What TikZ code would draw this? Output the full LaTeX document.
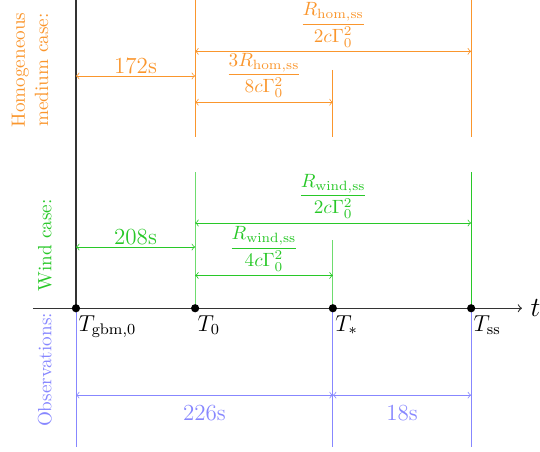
\documentclass[tikz,border=0pt]{standalone}
\usepackage{amsmath,amssymb}
\usetikzlibrary{positioning,calc}

\definecolor{homcol}{RGB}{250,150,45}
\definecolor{windcol}{RGB}{40,200,40}
\definecolor{windlt}{RGB}{110,220,110}
\definecolor{obscol}{RGB}{135,135,255}

\begin{document}
\begin{tikzpicture}[
		axis/.style={draw=black!80, semithick, ->},
		dot/.style={circle, fill=black, inner sep=0pt, minimum size=1.5mm},
		tlabel/.style={font=\large, anchor=north west, inner sep=0pt},
		homline/.style={draw=homcol, semithick},
		homarrow/.style={draw=homcol, <->},
		windline/.style={draw=windlt, semithick},
		windarrow/.style={draw=windcol, <->},
		obsline/.style={draw=obscol},
		obsarrow/.style={draw=obscol, <->},
		case/.style={rotate=90, align=center, font=\normalsize},
		dur/.style={font=\large, inner sep=1pt},
		frac/.style={font=\normalsize, inner sep=0pt, above=2pt}
		]
		\useasboundingbox (-1.39,-2.62) rectangle (8.49,5.64);
		
		% -------------------------------------------------
		% Time axis
		% -------------------------------------------------
		\coordinate (start) at (-0.79,0);
		\coordinate (end) at (8.16,0);
		\draw[axis] (start) -- (end);
		\node[font=\Large, right=1pt of end] (t) {$t$};
		
		\coordinate (gbm) at (0,0);
		\coordinate (T0) at (2.18,0);
		\coordinate (Tst) at (4.70,0);
		\coordinate (Tss) at (7.23,0);
		
		\node[tlabel] (lgbm) at (0.04,-0.13) {$T_{\mathrm{gbm},0}$};
		\node[tlabel] (lT0) at (2.22,-0.13) {$T_0$};
		\node[tlabel] (lTst) at (4.74,-0.13) {$T_*$};
		\node[tlabel] (lTss) at (7.27,-0.13) {$T_{\mathrm{ss}}$};
		
		% black line at T_gbm,0
		\coordinate (gtop) at (0,5.64);
		\draw[black!80, semithick] (gbm) -- (gtop);
		
		% -------------------------------------------------
		% Homogeneous medium case
		% -------------------------------------------------
		\node[case, text=homcol] (homcase) at (-0.84,4.36) {Homogeneous\\medium case:};
		
		\coordinate (h0a) at (2.18,5.64);
		\coordinate (h0b) at (2.18,3.13);
		\coordinate (hsa) at (4.70,4.36);
		\coordinate (hsb) at (4.70,3.13);
		\coordinate (hssa) at (7.23,5.64);
		\coordinate (hssb) at (7.23,3.13);
		\draw[homline] (h0a) -- (h0b);
		\draw[homline] (hsa) -- (hsb);
		\draw[homline] (hssa) -- (hssb);
		
		\draw[homarrow] (0,4.25) -- node[dur, above, text=homcol] (h172) {172s} (2.18,4.25);
		\draw[homarrow] (2.18,4.70) -- node[frac, text=homcol] (hfull)
			{$\dfrac{R_{\mathrm{hom,ss}}}{2c\Gamma_0^2}$} (7.23,4.70);
		\draw[homarrow] (2.18,3.77) -- node[frac, text=homcol] (hstar)
			{$\dfrac{3R_{\mathrm{hom,ss}}}{8c\Gamma_0^2}$} (4.70,3.77);
		
		% -------------------------------------------------
		% Wind case
		% -------------------------------------------------
		\node[case, text=windcol] (windcase) at (-0.57,1.15) {Wind case:};
		
		\coordinate (w0a) at (2.18,2.49);
		\coordinate (wsa) at (4.70,1.24);
		\coordinate (wssa) at (7.23,2.49);
		\draw[windline] (w0a) -- (T0);
		\draw[windline] (wsa) -- (Tst);
		\draw[windcol, semithick] (wssa) -- (Tss);
		
		\draw[windarrow] (0,1.12) -- node[dur, above, text=windcol] (w208) {208s} (2.18,1.12);
		\draw[windarrow] (2.18,1.56) -- node[frac, text=windcol] (wfull)
			{$\dfrac{R_{\mathrm{wind,ss}}}{2c\Gamma_0^2}$} (7.23,1.56);
		\draw[windarrow] (2.18,0.60) -- node[frac, text=windcol] (wstar)
			{$\dfrac{R_{\mathrm{wind,ss}}}{4c\Gamma_0^2}$} (4.70,0.60);
		
		% -------------------------------------------------
		% Observations
		% -------------------------------------------------
		\node[case, text=obscol] (obscase) at (-0.57,-1.13) {Observations:};
		
		\coordinate (ogbm) at (0,-2.53);
		\coordinate (ost) at (4.70,-2.53);
		\coordinate (oss) at (7.23,-2.53);
		\draw[obsline] (gbm) -- (ogbm);
		\draw[obsline] (Tst) -- (ost);
		\draw[obsline] (Tss) -- (oss);
		
		\draw[obsarrow] (0,-1.59) -- node[dur, below=4pt, text=obscol] (o226) {226s} (4.70,-1.59);
		\draw[obsarrow] (4.70,-1.59) -- node[dur, below=4pt, text=obscol] (o18) {18s} (7.23,-1.59);
		
		% dots on the axis
		\foreach \p in {gbm,T0,Tst,Tss}
		\node[dot] (d\p) at (\p) {};
		
	\end{tikzpicture}
\end{document}
